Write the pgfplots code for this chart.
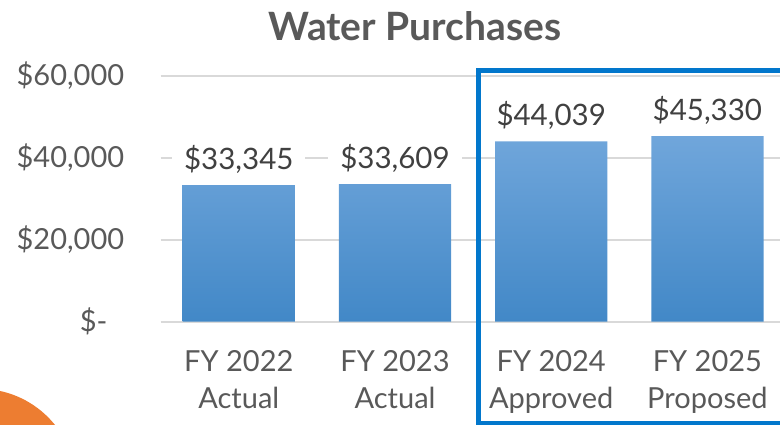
\documentclass[border=0pt]{standalone}
\usepackage{pgfplots}
\pgfplotsset{compat=1.18}
\usepackage{fontspec}
\setmainfont{Lato}
\definecolor{txt}{HTML}{595959}
\definecolor{lbl}{HTML}{404040}
\definecolor{gridc}{HTML}{D9D9D9}
\definecolor{bartop}{RGB}{112,166,219}
\definecolor{barbot}{RGB}{66,136,199}
\definecolor{frameblue}{HTML}{0277CC}
\definecolor{orng}{HTML}{ED7D31}
\begin{document}
\begin{tikzpicture}[x=1pt,y=1pt]
\useasboundingbox (0,0) rectangle (780,425);
\clip (0,0) rectangle (780,425);
\fill[orng] (-20.4,-60.5) circle (96.7);
\node[anchor=base, font=\fontsize{39}{44}\selectfont\bfseries, text=txt] at (415,384) {Water Purchases};
\begin{axis}[
  at={(160.7pt,103.3pt)}, anchor=south west,
  scale only axis, width=624.8pt, height=245.7pt,
  xmin=-0.5, xmax=3.5, ymin=0, ymax=60000,
  scaled y ticks=false,
  axis line style={draw=none},
  major tick length=0pt,
  ytick={0,20000,40000,60000},
  yticklabels={{\$-\phantom{0}},{\$20,000},{\$40,000},{\$60,000}},
  yticklabel style={font=\fontsize{29}{36}\selectfont, text=txt, xshift=-33pt},
  ymajorgrids, major grid style={gridc, line width=2pt},
  xtick={0,1,2,3},
  xticklabels={{FY 2022\\Actual},{FY 2023\\Actual},{FY 2024\\Approved},{FY 2025\\Proposed}},
  xticklabel style={align=center, font=\fontsize{29}{37}\selectfont, text=txt, yshift=-25pt},
  /pgf/number format/assume math mode=true,
]
\addplot[ybar, bar width=112.3pt, draw=none, top color=bartop, bottom color=barbot,
  point meta=explicit symbolic, nodes near coords,
  every node near coord/.append style={fill=white, text=lbl, font=\fontsize{29.5}{36}\selectfont, inner xsep=12pt, yshift=8pt}]
  coordinates {(0,33345) [\$33{,}345] (1,33609) [\$33{,}609] (2,44039) [\$44{,}039] (3,45330) [\$45{,}330]};
\end{axis}
\draw[frameblue, line width=5pt] (478.5,354.5) rectangle (800,1.5);
\end{tikzpicture}
\end{document}
